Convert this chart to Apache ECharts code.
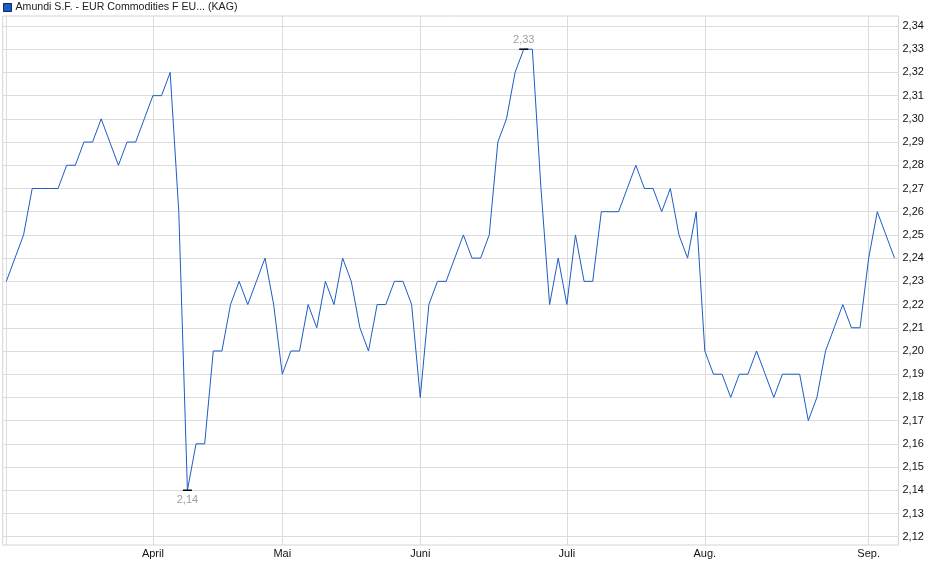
<!DOCTYPE html>
<html>
<head>
<meta charset="utf-8">
<script src="https://cdn.jsdelivr.net/npm/echarts@6/dist/echarts.min.js"></script>
<style>
html,body{margin:0;padding:0;background:#fff;}
#chart{width:940px;height:579px;}
</style>
</head>
<body>
<div id="chart"></div>
<script>
// Fund price series (one value per published day)
var seriesName = 'Amundi S.F. - EUR Commodities F EU... (KAG)';
var prices = [
  2.23, 2.24, 2.25, 2.27, 2.27, 2.27, 2.27, 2.28, 2.28, 2.29,
  2.29, 2.30, 2.29, 2.28, 2.29, 2.29, 2.30, 2.31, 2.31, 2.32,
  2.26, 2.14, 2.16, 2.16, 2.20, 2.20, 2.22, 2.23, 2.22, 2.23,
  2.24, 2.22, 2.19, 2.20, 2.20, 2.22, 2.21, 2.23, 2.22, 2.24,
  2.23, 2.21, 2.20, 2.22, 2.22, 2.23, 2.23, 2.22, 2.18, 2.22,
  2.23, 2.23, 2.24, 2.25, 2.24, 2.24, 2.25, 2.29, 2.30, 2.32,
  2.33, 2.33, 2.27, 2.22, 2.24, 2.22, 2.25, 2.23, 2.23, 2.26,
  2.26, 2.26, 2.27, 2.28, 2.27, 2.27, 2.26, 2.27, 2.25, 2.24,
  2.26, 2.20, 2.19, 2.19, 2.18, 2.19, 2.19, 2.20, 2.19, 2.18,
  2.19, 2.19, 2.19, 2.17, 2.18, 2.20, 2.21, 2.22, 2.21, 2.21,
  2.24, 2.26, 2.25, 2.24
];
// Month labels and the index of the first point of each month
var monthLabels = ['April', 'Mai', 'Juni', 'Juli', 'Aug.', 'Sep.'];
var monthIndex = [17, 32, 48, 65, 81, 100];
// Y tick labels
var yTicks = [2.12, 2.13, 2.14, 2.15, 2.16, 2.17, 2.18, 2.19, 2.20, 2.21, 2.22,
              2.23, 2.24, 2.25, 2.26, 2.27, 2.28, 2.29, 2.30, 2.31, 2.32, 2.33, 2.34];

var points = prices.map(function (v, i) { return [i, v]; });
var minVal = Math.min.apply(null, prices);
var maxVal = Math.max.apply(null, prices);
var minIdx = prices.indexOf(minVal);
var maxIdx = prices.indexOf(maxVal);
var xGridVals = [0].concat(monthIndex);

function fmt(v) { return Number(v).toFixed(2).replace('.', ','); }

var chart = echarts.init(document.getElementById('chart'), null, {renderer: 'canvas'});
chart.setOption({
  animation: false,
  backgroundColor: '#fff',
  textStyle: {fontFamily: 'Liberation Sans, Arial, sans-serif'},
  legend: {
    left: 3, top: 2, padding: 0,
    itemWidth: 8, itemHeight: 8, itemGap: 4,
    icon: 'rect',
    textStyle: {fontSize: 10.6, color: '#222', padding: [0, 0, 0, -1], fontFamily: 'Liberation Sans, Arial, sans-serif'},
    data: [{name: seriesName, itemStyle: {color: '#1d5cc4', borderColor: '#0a2a66', borderWidth: 1}}]
  },
  grid: {
    left: 2.7, right: 41.5, top: 16, bottom: 34,
    show: true, borderColor: '#d4d4d4', borderWidth: 1,
    containLabel: false
  },
  xAxis: {
    type: 'value',
    min: -0.42, max: 103.46,
    axisLine: {show: false},
    axisTick: {show: false, customValues: xGridVals},
    splitLine: {show: true, lineStyle: {color: '#dcdcdc', width: 1}},
    axisLabel: {
      customValues: monthIndex,
      margin: 3,
      fontSize: 11, color: '#111',
      fontFamily: 'Liberation Sans, Arial, sans-serif',
      formatter: function (v) {
        var k = monthIndex.indexOf(Math.round(v));
        return k >= 0 ? monthLabels[k] : '';
      }
    }
  },
  yAxis: {
    type: 'value',
    position: 'right',
    min: 2.11642, max: 2.34431,
    axisLine: {show: false},
    axisTick: {show: false, customValues: yTicks},
    splitLine: {show: true, lineStyle: {color: '#dcdcdc', width: 1}},
    axisLabel: {
      customValues: yTicks,
      margin: 4,
      fontSize: 11, color: '#111',
      fontFamily: 'Liberation Sans, Arial, sans-serif',
      formatter: fmt
    }
  },
  series: [{
    name: seriesName,
    type: 'line',
    data: points,
    showSymbol: false,
    symbol: 'none',
    lineStyle: {color: '#1d5cc4', width: 1},
    itemStyle: {color: '#1d5cc4'},
    markPoint: {
      symbol: 'rect',
      symbolSize: [9, 1.5],
      itemStyle: {color: '#000'},
      label: {
        show: true,
        color: '#a0a0a0',
        fontSize: 11,
        fontFamily: 'Liberation Sans, Arial, sans-serif',
        formatter: function (p) { return fmt(p.value); }
      },
      data: [
        {coord: [maxIdx, maxVal], value: maxVal, label: {position: 'top', distance: 3}},
        {coord: [minIdx, minVal], value: minVal, label: {position: 'bottom', distance: 3}}
      ]
    }
  }]
});
</script>
</body>
</html>
